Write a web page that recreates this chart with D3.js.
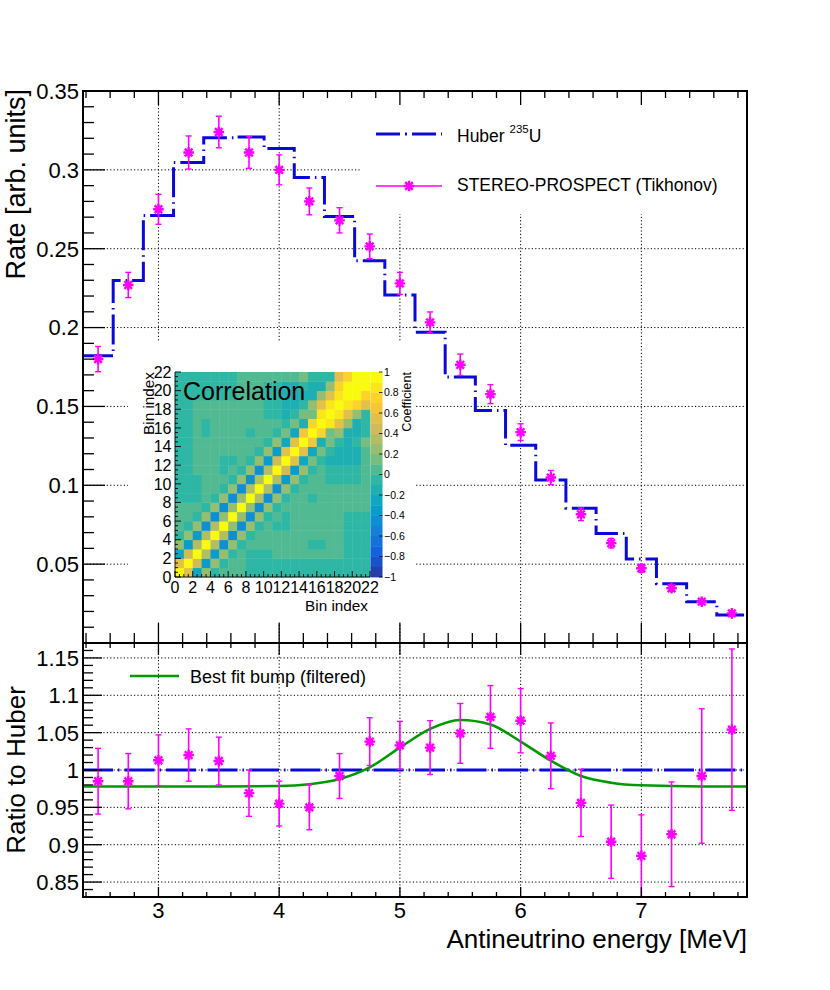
<!DOCTYPE html>
<html lang="en">
<head>
<meta charset="UTF-8">
<title>Antineutrino spectrum vs Huber</title>
<script src="https://d3js.org/d3.v7.min.js"></script>
<style>
  body { margin: 0; background: #fff; }
  svg { font-family: "Liberation Sans", Arial, Helvetica, sans-serif; }
</style>
</head>
<body>
<div id="chart"></div>
<script>
const width = 830, height = 990;

// ---- data ----
const binEdges = [2.375, 2.625, 2.875, 3.125, 3.375, 3.625, 3.875, 4.125, 4.375, 4.625, 4.875, 5.125,
                  5.375, 5.625, 5.875, 6.125, 6.375, 6.625, 6.875, 7.125, 7.375, 7.625, 7.875];
const binCenters = [2.5, 2.75, 3.0, 3.25, 3.5, 3.75, 4.0, 4.25, 4.5, 4.75, 5.0, 5.25,
                    5.5, 5.75, 6.0, 6.25, 6.5, 6.75, 7.0, 7.25, 7.5, 7.75];
const huberRate = [0.1821, 0.2299, 0.2711, 0.3046, 0.3204, 0.3209, 0.3135, 0.2951, 0.2705, 0.2424, 0.2206,
                   0.1971, 0.1686, 0.1474, 0.1254, 0.1034, 0.0855, 0.0694, 0.0533, 0.0376, 0.0262, 0.0178];
const dataRate = [0.180, 0.227, 0.275, 0.311, 0.324, 0.311, 0.300, 0.280, 0.268, 0.2515, 0.228,
                  0.2033, 0.1764, 0.1578, 0.1337, 0.1049, 0.0816, 0.0633, 0.0474, 0.0347, 0.0262, 0.0188];
const dataErr = [0.008, 0.008, 0.0095, 0.0105, 0.010, 0.010, 0.0095, 0.0085, 0.008, 0.0078, 0.007,
                 0.0066, 0.0068, 0.006, 0.0053, 0.0045, 0.004, 0.003, 0.0025, 0.002, 0.0015, 0.0013];
const ratioVal = [0.985, 0.985, 1.013, 1.020, 1.012, 0.969, 0.955, 0.950, 0.992, 1.038, 1.033,
                  1.030, 1.049, 1.071, 1.066, 1.019, 0.956, 0.904, 0.885, 0.914, 0.992, 1.054];
const ratioErr = [0.044, 0.037, 0.034, 0.035, 0.032, 0.031, 0.030, 0.030, 0.030, 0.032, 0.032,
                  0.036, 0.040, 0.042, 0.043, 0.044, 0.045, 0.049, 0.055, 0.070, 0.090, 0.108];
const bumpE = [2.375, 3.0, 3.5, 4.0, 4.25, 4.5, 4.75, 5.0, 5.25, 5.5, 5.75, 6.0, 6.25, 6.5, 6.75, 7.0, 7.5, 7.875];
const bumpR = [0.978, 0.978, 0.978, 0.9785, 0.981, 0.988, 1.0036, 1.030, 1.055, 1.067, 1.061, 1.038,
               1.0124, 0.992, 0.983, 0.9795, 0.978, 0.978];

const topTicks = [0.05, 0.1, 0.15, 0.2, 0.25, 0.3, 0.35];
const ratioTicks = [0.85, 0.9, 0.95, 1, 1.05, 1.1, 1.15];
const energyTicks = [3, 4, 5, 6, 7];
const binTicks = [0, 2, 4, 6, 8, 10, 12, 14, 16, 18, 20, 22];
const paletteTicks = [-1, -0.8, -0.6, -0.4, -0.2, 0, 0.2, 0.4, 0.6, 0.8, 1];

// correlation matrix, lower triangle: row j holds bins 0..j
const corrLower = [
  [1],
  [0.5, 1],
  [-0.3, 0.4, 1],
  [0.2, -0.35, 0.35, 1],
  [-0.05, 0.2, -0.4, 0.3, 1],
  [0.05, -0.05, 0.2, -0.45, 0.3, 1],
  [0.05, 0.05, -0.05, 0.2, -0.45, 0.25, 1],
  [0.05, 0.05, 0.05, -0.05, 0.2, -0.45, 0.25, 1],
  [-0.05, -0.05, -0.05, 0.05, -0.05, 0.2, -0.45, 0.25, 1],
  [-0.05, -0.05, -0.05, 0.05, 0.05, -0.05, 0.2, -0.45, 0.3, 1],
  [-0.05, -0.05, -0.05, 0.05, 0.05, 0.05, -0.05, 0.2, -0.45, 0.3, 1],
  [-0.05, -0.05, 0.05, 0.05, 0.05, -0.05, 0.05, -0.05, 0.2, -0.45, 0.35, 1],
  [-0.05, -0.05, 0.05, 0.05, 0.05, -0.05, -0.05, 0.05, -0.05, 0.2, -0.4, 0.45, 1],
  [-0.05, -0.05, 0.05, 0.05, 0.05, 0.05, 0.05, 0.05, 0.05, -0.05, 0.2, -0.35, 0.55, 1],
  [-0.05, -0.05, 0.05, 0.05, 0.05, 0.05, 0.05, 0.05, 0.05, 0.05, -0.05, 0.2, -0.3, 0.55, 1],
  [-0.05, -0.05, 0.05, -0.05, 0.05, 0.05, 0.05, 0.05, -0.05, 0.05, 0.05, -0.05, 0.1, -0.25, 0.65, 1],
  [-0.05, -0.05, 0.05, -0.05, 0.05, 0.05, 0.05, 0.05, 0.05, 0.05, 0.05, 0.05, -0.05, 0.1, -0.2, 0.7, 1],
  [-0.05, -0.05, 0.05, 0.05, 0.05, 0.05, 0.05, 0.05, 0.05, 0.05, -0.05, -0.05, -0.15, -0.05, 0.1, 0.1, 0.8, 1],
  [-0.05, -0.05, 0.05, 0.05, 0.05, 0.05, 0.05, 0.05, 0.05, 0.05, -0.05, -0.05, -0.15, -0.15, -0.1, 0.2, 0.55, 0.85, 1],
  [-0.05, -0.05, -0.05, -0.05, -0.05, -0.05, -0.05, 0.05, 0.05, 0.05, -0.05, -0.05, -0.15, -0.15, -0.15, -0.15, 0.25, 0.55, 0.8, 1],
  [-0.05, -0.05, -0.05, -0.05, -0.05, -0.05, -0.05, 0.05, 0.05, 0.05, -0.05, -0.05, -0.15, -0.15, -0.1, -0.15, -0.15, 0.2, 0.75, 0.95, 1],
  [-0.05, -0.05, -0.05, -0.05, -0.05, -0.05, -0.05, 0.05, 0.05, 0.05, 0.05, 0.05, 0.05, 0.05, 0.15, -0.1, -0.1, -0.1, 0.5, 0.75, 0.95, 1]
];

// ROOT "bird" palette stops
const birdStops = [0.0, 0.125, 0.25, 0.375, 0.5, 0.625, 0.75, 0.875, 1.0];
const birdColors = ["rgb(53,42,135)", "rgb(15,92,221)", "rgb(20,129,214)", "rgb(6,164,202)",
                    "rgb(46,183,164)", "rgb(135,191,119)", "rgb(209,187,89)", "rgb(254,200,50)", "rgb(249,251,14)"];

// ---- setup ----
const svg = d3.select("#chart").append("svg")
  .attr("width", width).attr("height", height);

const fr = {left: 83, right: 747, top: 91, mid: 643, bottom: 897};
const blue = "#0a0ad8", magenta = "#ff00ff", green = "#009a00";
const huberDash = "30 5 1.5 5";

const x = d3.scaleLinear().domain([2.375, 7.875]).range([fr.left, fr.right]);
const yTop = d3.scaleLinear().domain([0, 0.35]).range([fr.mid, fr.top]);
const yBot = d3.scaleLinear().domain([0.83, 1.17]).range([fr.bottom, fr.mid]);

const defs = svg.append("defs");
defs.append("clipPath").attr("id", "clipTop").append("rect")
  .attr("x", fr.left).attr("y", fr.top).attr("width", fr.right - fr.left).attr("height", fr.mid - fr.top);
defs.append("clipPath").attr("id", "clipBot").append("rect")
  .attr("x", fr.left).attr("y", fr.mid).attr("width", fr.right - fr.left).attr("height", fr.bottom - fr.mid);

// ---- grids ----
function grid(g, ys, yScale, y0, y1) {
  g.selectAll(".gv").data(energyTicks).join("line").attr("class", "gv")
    .attr("x1", d => x(d)).attr("x2", d => x(d)).attr("y1", y0).attr("y2", y1);
  g.selectAll(".gh").data(ys).join("line").attr("class", "gh")
    .attr("x1", fr.left).attr("x2", fr.right).attr("y1", d => yScale(d)).attr("y2", d => yScale(d));
  g.selectAll("line").attr("stroke", "#000").attr("stroke-width", 1).attr("stroke-dasharray", "1.2 2.2");
}
const gridTop = svg.append("g");
grid(gridTop, topTicks.filter(d => d < 0.35), yTop, fr.top, fr.mid);
const gridBot = svg.append("g");
grid(gridBot, ratioTicks, yBot, fr.mid, fr.bottom);

// legend box and inset pad mask the grid
svg.append("rect").attr("x", 361).attr("y", fr.top + 1).attr("width", fr.right - 362).attr("height", 122)
  .attr("fill", "#fff");
svg.append("rect").attr("x", 128).attr("y", 342).attr("width", 287).attr("height", 280).attr("fill", "#fff");

// ---- markers ----
function asterisk(r) {
  const a = r * 0.72;
  return `M${-r},0L${r},0M0,${-r}L0,${r}M${-a},${-a}L${a},${a}M${-a},${a}L${a},${-a}`;
}

function drawPoints(g, vals, errs, yScale) {
  const pts = binCenters.map((e, i) => ({e: e, v: vals[i], s: errs[i]}));
  g.selectAll(".eb").data(pts).join("line").attr("class", "eb")
    .attr("x1", d => x(d.e)).attr("x2", d => x(d.e))
    .attr("y1", d => yScale(d.v - d.s)).attr("y2", d => yScale(d.v + d.s))
    .attr("stroke", magenta).attr("stroke-width", 1.6);
  [-1, 1].forEach(sgn => {
    const cls = "cap" + (sgn > 0 ? "u" : "d");
    g.selectAll("." + cls).data(pts).join("line").attr("class", cls)
      .attr("x1", d => x(d.e) - 3).attr("x2", d => x(d.e) + 3)
      .attr("y1", d => yScale(d.v + sgn * d.s)).attr("y2", d => yScale(d.v + sgn * d.s))
      .attr("stroke", magenta).attr("stroke-width", 1.4);
  });
  g.selectAll(".mk").data(pts).join("path").attr("class", "mk")
    .attr("d", asterisk(5.3))
    .attr("transform", d => `translate(${x(d.e)},${yScale(d.v)})`)
    .attr("stroke", magenta).attr("stroke-width", 2.4).attr("fill", "none");
}

// ---- top panel ----
const topG = svg.append("g").attr("clip-path", "url(#clipTop)");
const stepLine = d3.line().x(d => x(d[0])).y(d => yTop(d[1])).curve(d3.curveStepAfter);
topG.append("path")
  .attr("d", stepLine(binEdges.map((e, i) => [e, huberRate[Math.min(i, huberRate.length - 1)]])))
  .attr("fill", "none").attr("stroke", blue).attr("stroke-width", 3).attr("stroke-dasharray", huberDash);
drawPoints(topG, dataRate, dataErr, yTop);

// ---- bottom panel ----
const botG = svg.append("g").attr("clip-path", "url(#clipBot)");
botG.append("line").attr("x1", fr.left).attr("x2", fr.right).attr("y1", yBot(1)).attr("y2", yBot(1))
  .attr("stroke", blue).attr("stroke-width", 3).attr("stroke-dasharray", huberDash);
const bumpLine = d3.line().x(d => x(d[0])).y(d => yBot(d[1])).curve(d3.curveMonotoneX);
botG.append("path").attr("d", bumpLine(bumpE.map((e, i) => [e, bumpR[i]])))
  .attr("fill", "none").attr("stroke", green).attr("stroke-width", 2.6);
drawPoints(botG, ratioVal, ratioErr, yBot);

// ---- frames and ticks ----
const axes = svg.append("g").attr("stroke", "#000");
[[fr.top, fr.mid], [fr.mid, fr.bottom]].forEach(([t, b]) => {
  axes.append("rect").attr("x", fr.left).attr("y", t).attr("width", fr.right - fr.left).attr("height", b - t)
    .attr("fill", "none").attr("stroke-width", 2);
});
function xTicks(y0, dir, lenMajor, lenMinor) {
  const minors = d3.range(12, 40).map(k => k * 0.2);
  minors.forEach(v => {
    const major = Math.abs(v - Math.round(v)) < 1e-6;
    const L = major ? lenMajor : lenMinor;
    axes.append("line").attr("x1", x(v)).attr("x2", x(v)).attr("y1", y0).attr("y2", y0 + dir * L)
      .attr("stroke-width", 1.3);
  });
}
xTicks(fr.top, 1, 14, 7);
xTicks(fr.mid, -1, 20, 10);
xTicks(fr.mid, 1, 12, 5);
xTicks(fr.bottom, -1, 10, 5);

function yTicks(scale, lo, hi, lenMajor, lenMinor) {
  for (let k = lo; k <= hi; k++) {
    const v = k / 100;
    const L = (k % 5 === 0) ? lenMajor : lenMinor;
    axes.append("line").attr("x1", fr.left).attr("x2", fr.left + L).attr("y1", scale(v)).attr("y2", scale(v))
      .attr("stroke-width", 1.3);
  }
}
yTicks(yTop, 1, 34, 22, 11);
yTicks(yBot, 84, 116, 19, 10);

// tick labels
const labels = svg.append("g").attr("font-size", 22).attr("fill", "#000");
labels.selectAll(".lt").data(topTicks).join("text").attr("class", "lt")
  .attr("x", 79).attr("y", d => yTop(d)).attr("dy", "0.36em").attr("text-anchor", "end")
  .text(d => d3.format("")(d));
labels.selectAll(".lb").data(ratioTicks).join("text").attr("class", "lb")
  .attr("x", 79).attr("y", d => yBot(d)).attr("dy", "0.36em").attr("text-anchor", "end")
  .text(d => d3.format("")(d));
labels.selectAll(".lx").data(energyTicks).join("text").attr("class", "lx")
  .attr("x", d => x(d)).attr("y", 918).attr("text-anchor", "middle").text(d => d);

// axis titles
svg.append("text").attr("transform", `translate(25,${fr.top - 2}) rotate(-90)`)
  .attr("text-anchor", "end").attr("font-size", 27).text("Rate [arb. units]");
svg.append("text").attr("transform", `translate(25,${yBot(1)}) rotate(-90)`)
  .attr("text-anchor", "middle").attr("font-size", 26).text("Ratio to Huber");
svg.append("text").attr("x", fr.right).attr("y", 948).attr("text-anchor", "end")
  .attr("font-size", 26).text("Antineutrino energy [MeV]");

// ---- legends ----
const leg = svg.append("g");
leg.append("line").attr("x1", 376).attr("x2", 442).attr("y1", 134).attr("y2", 134)
  .attr("stroke", blue).attr("stroke-width", 3).attr("stroke-dasharray", "24 5 2 5");
const hText = leg.append("text").attr("x", 457).attr("y", 141.5).attr("font-size", 17.5);
hText.append("tspan").text("Huber ");
hText.append("tspan").attr("dy", -8.5).attr("font-size", 11.5).text("235");
hText.append("tspan").attr("dy", 8.5).text("U");
leg.append("line").attr("x1", 376).attr("x2", 442).attr("y1", 186).attr("y2", 186)
  .attr("stroke", magenta).attr("stroke-width", 1.6);
leg.append("path").attr("d", asterisk(5.3)).attr("transform", "translate(409,186)")
  .attr("stroke", magenta).attr("stroke-width", 2.4).attr("fill", "none");
leg.append("text").attr("x", 457).attr("y", 190.5).attr("font-size", 17.5).text("STEREO-PROSPECT (Tikhonov)");
leg.append("line").attr("x1", 130).attr("x2", 179).attr("y1", 676).attr("y2", 676)
  .attr("stroke", green).attr("stroke-width", 2.6);
leg.append("text").attr("x", 190).attr("y", 683).attr("font-size", 18).text("Best fit bump (filtered)");

// ---- inset correlation matrix ----
const nb = corrLower.length;
const corr = d3.range(nb).map(j => d3.range(nb).map(i => i <= j ? corrLower[j][i] : corrLower[i][j]));
const cells = [];
corr.forEach((row, j) => row.forEach((v, i) => cells.push({i: i, j: j, v: v})));

const bird = d3.scaleLinear().domain(birdStops).range(birdColors).interpolate(d3.interpolateRgb);
function bandColor(v) {
  let k = Math.floor((v + 1) * 10 + 1e-6);
  k = Math.max(0, Math.min(19, k));
  return bird((k + 0.99) / 20);
}

const mx = d3.scaleLinear().domain([0, nb]).range([175, 370]);
const my = d3.scaleLinear().domain([0, nb]).range([577, 372]);
const inset = svg.append("g");
inset.selectAll(".cell").data(cells).join("rect").attr("class", "cell")
  .attr("x", d => mx(d.i)).attr("y", d => my(d.j + 1))
  .attr("width", mx(1) - mx(0) + 0.4).attr("height", my(0) - my(1) + 0.4)
  .attr("fill", d => bandColor(d.v));

// palette
const pz = d3.scaleLinear().domain([-1, 1]).range([577, 372]);
const bands = d3.range(20).map(k => -1 + k * 0.1);
inset.selectAll(".band").data(bands).join("rect").attr("class", "band")
  .attr("x", 370.5).attr("width", 12).attr("y", d => pz(d + 0.1)).attr("height", pz(0) - pz(0.1) + 0.4)
  .attr("fill", d => bandColor(d + 0.05));
inset.selectAll(".pt").data(paletteTicks).join("line").attr("class", "pt")
  .attr("x1", 379).attr("x2", 382.5).attr("y1", d => pz(d)).attr("y2", d => pz(d))
  .attr("stroke", "#000").attr("stroke-width", 0.8);
inset.selectAll(".pl").data(paletteTicks).join("text").attr("class", "pl")
  .attr("x", 384).attr("y", d => pz(d)).attr("dy", "0.36em").attr("font-size", 10.5)
  .text(d => d3.format("")(d).replace("-", "\u2212"));
inset.append("text").attr("transform", "translate(410.5,372) rotate(-90)")
  .attr("text-anchor", "end").attr("font-size", 12.7).text("Coefficient");

// matrix axes ticks
const mt = inset.append("g").attr("stroke", "#000").attr("stroke-width", 0.9);
d3.range(0, nb + 0.01, 0.5).forEach(v => {
  const L = (v % 2 === 0) ? 6 : 3;
  mt.append("line").attr("x1", mx(v)).attr("x2", mx(v)).attr("y1", 577).attr("y2", 577 - L);
  mt.append("line").attr("x1", 175).attr("x2", 175 + L).attr("y1", my(v)).attr("y2", my(v));
});
mt.append("line").attr("x1", 175).attr("x2", 370).attr("y1", 577).attr("y2", 577);
mt.append("line").attr("x1", 175).attr("x2", 175).attr("y1", 372).attr("y2", 577);

inset.selectAll(".bx").data(binTicks).join("text").attr("class", "bx")
  .attr("x", d => mx(d)).attr("y", 593).attr("text-anchor", "middle").attr("font-size", 16).text(d => d);
inset.selectAll(".by").data(binTicks).join("text").attr("class", "by")
  .attr("x", 171.5).attr("y", d => my(d)).attr("dy", "0.36em").attr("text-anchor", "end")
  .attr("font-size", 16).text(d => d);
inset.append("text").attr("x", 368).attr("y", 611).attr("text-anchor", "end").attr("font-size", 15.3)
  .text("Bin index");
inset.append("text").attr("transform", "translate(154,372) rotate(-90)").attr("text-anchor", "end")
  .attr("font-size", 15.3).text("Bin index");
inset.append("text").attr("x", 183).attr("y", 400).attr("font-size", 25).text("Correlation");
</script>
</body>
</html>
